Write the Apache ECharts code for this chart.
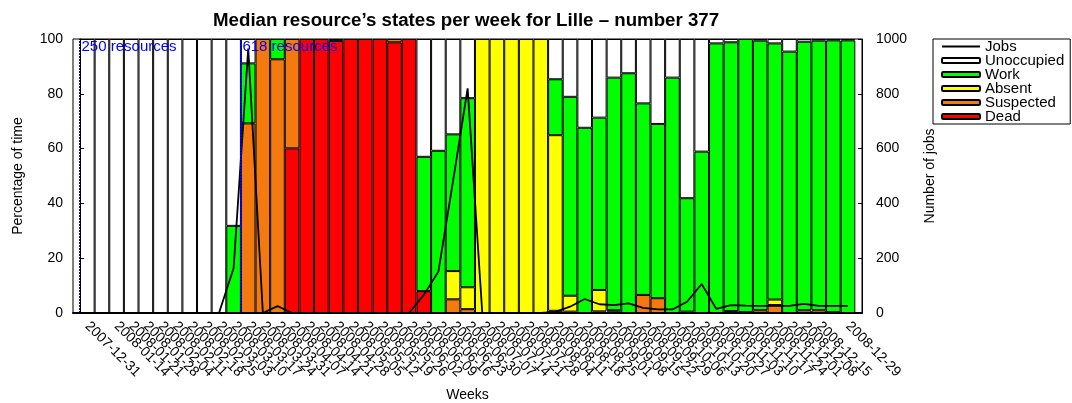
<!DOCTYPE html>
<html>
<head>
<meta charset="utf-8">
<script src="https://cdn.jsdelivr.net/npm/echarts@6/dist/echarts.min.js"></script>
<style>html,body{margin:0;padding:0;background:#fff}#c{width:1072px;height:403px}</style>
</head>
<body>
<div id="c"></div>
<script>
const weeks = ['2007-12-31','2008-01-07','2008-01-14','2008-01-21','2008-01-28','2008-02-04','2008-02-11','2008-02-18','2008-02-25','2008-03-03','2008-03-10','2008-03-17','2008-03-24','2008-03-31','2008-04-07','2008-04-14','2008-04-21','2008-04-28','2008-05-05','2008-05-12','2008-05-19','2008-05-26','2008-06-02','2008-06-09','2008-06-16','2008-06-23','2008-06-30','2008-07-07','2008-07-14','2008-07-21','2008-07-28','2008-08-04','2008-08-11','2008-08-18','2008-08-25','2008-09-01','2008-09-08','2008-09-15','2008-09-22','2008-09-29','2008-10-06','2008-10-13','2008-10-20','2008-10-27','2008-11-03','2008-11-10','2008-11-17','2008-11-24','2008-12-01','2008-12-08','2008-12-15','2008-12-22','2008-12-29'];

const dead       = [0,0,0,0,0,0,0,0,0,0,0,0,0,0,60.1,100,100,99.3,100,100,100,98.8,100,8,0,0,0,0,0,0,0,0,0,0,0,0,0,0,0,0,0,0,0,0,0,0,0,0,0,0,0,0,0];
const suspected  = [0,0,0,0,0,0,0,0,0,0,0,69.2,100,92.6,39.9,0,0,0.7,0,0,0,1.2,0,0,0,5,1.4,0,0,0,0,0,0.8,0.5,0,0.6,0.5,0,6.6,5.4,0,0.5,0,0,0.7,0.3,1,2.9,0,1,1,0.3,0];
const absent     = [0,0,0,0,0,0,0,0,0,0,0,0,0,0,0,0,0,0,0,0,0,0,0,0,0,10.3,8,100,100,100,100,100,64.1,5.8,0,7.8,0.5,0,0,0,0,0,0,0,0,0,0,2,0,0,0,0,0];
const work       = [0,0,0,0,0,0,0,0,0,0,31.8,21.9,0,7.4,0,0,0,0,0,0,0,0,0,49,59.2,49.9,69,0,0,0,0,0,20.4,72.6,67.6,62.9,84.9,87.5,69.9,63.6,85.9,41.4,58.9,98.4,98.1,99.7,98.4,93.5,95.4,98,98.4,99.2,99.5];
const unoccupied = [100,100,100,100,100,100,100,100,100,100,68.2,8.9,0,0,0,0,0,0,0,0,0,0,0,43,40.8,34.8,21.6,0,0,0,0,0,14.7,21.1,32.4,28.7,14.1,12.5,23.5,31,14.1,58.1,41.1,1.6,1.2,0,0.6,1.6,4.6,1,0.6,0.5,0.5];
const jobs       = [null,null,null,null,null,null,null,null,null,0,163,965,0,25,0,0,0,0,0,0,0,0,0,66,151,480,820,0,0,0,0,0,4,23,51,32,29,35,19,13,13,41,106,15,29,27,26,26,26,33,26,26,26];

const yTicks = [0,20,40,60,80,100];
const y2Ticks = [0,200,400,600,800,1000];
const resourceMarks = [{week:'2007-12-31', text:'250 resources'}, {week:'2008-03-17', text:'618 resources'}];

const font = 'Liberation Sans, Arial, Helvetica, sans-serif';

function barSeries(name, arr, color) {
  return {
    name, type: 'bar', stack: 'states', xAxisIndex: 1, yAxisIndex: 2,
    data: arr.map(v => (v === 0 ? '-' : v)), barWidth: '100%', barCategoryGap: 0,
    itemStyle: { color, borderColor: '#000', borderWidth: 1 },
    emphasis: { disabled: true }, animation: false, z: 2
  };
}

const chart = echarts.init(document.getElementById('c'), null, { renderer: 'canvas' });
chart.setOption({
  animation: false,
  backgroundColor: '#fff',
  textStyle: { fontFamily: font },
  title: {
    text: 'Median resource\u2019s states per week for Lille \u2013 number 377',
    left: 208, top: 6,
    textStyle: { fontSize: 18.7, fontWeight: 'bold', color: '#000', fontFamily: font }
  },
  legend: {
    orient: 'vertical', left: 933, top: 39,
    itemWidth: 38, itemHeight: 5, itemGap: -1,
    borderColor: '#000', borderWidth: 1, padding: [0, 6, 0, 8],
    textStyle: { fontSize: 15, color: '#000', lineHeight: 14, fontFamily: font },
    data: [
      { name: 'Jobs', icon: 'path://M0,0 L40,0 L40,2 L0,2 Z', itemStyle: { color: '#000', borderWidth: 0 } },
      'Unoccupied', 'Work', 'Absent', 'Suspected', 'Dead'
    ]
  },
  grid: [
    { left: 73, right: 210, top: 39, bottom: 90, show: true, z: 10, backgroundColor: 'transparent', borderColor: '#000', borderWidth: 1, outerBoundsMode: 'none' },
    { left: 80, right: 216.7, top: 39, bottom: 90, show: false, outerBoundsMode: 'none' }
  ],
  xAxis: [
    {
      type: 'value', gridIndex: 0, min: -0.48, max: 53.46, z: 10,
      name: 'Weeks', nameLocation: 'middle', nameGap: 75,
      nameTextStyle: { fontSize: 14, color: '#000', fontFamily: font },
      axisLine: { show: true, lineStyle: { color: '#000', width: 2 } },
      axisTick: { show: false },
      splitLine: { show: false },
      axisLabel: {
        customValues: weeks.map((w, i) => i + 0.5),
        formatter: v => weeks[Math.floor(v)],
        showMinLabel: true, showMaxLabel: true,
        rotate: -45, fontSize: 14, color: '#000', margin: 11, fontFamily: font
      }
    },
    {
      type: 'category', gridIndex: 1, data: weeks, boundaryGap: true, show: false
    }
  ],
  yAxis: [
    {
      type: 'value', gridIndex: 0, min: 0, max: 100, interval: 20, z: 10,
      name: 'Percentage of time', nameLocation: 'middle', nameGap: 48, nameRotate: 90,
      nameTextStyle: { fontSize: 14, color: '#000', fontFamily: font },
      axisLine: { show: true, lineStyle: { color: '#000' } },
      axisTick: { show: true, inside: true, length: 4, lineStyle: { color: '#000' } },
      splitLine: { show: false },
      axisLabel: { fontSize: 14, color: '#000', margin: 10, fontFamily: font, customValues: yTicks }
    },
    {
      type: 'value', gridIndex: 0, min: 0, max: 1000, interval: 200, position: 'right', z: 10,
      name: 'Number of jobs', nameLocation: 'middle', nameGap: 61, nameRotate: 90,
      nameTextStyle: { fontSize: 14, color: '#000', fontFamily: font },
      axisLine: { show: true, lineStyle: { color: '#000' } },
      axisTick: { show: true, inside: true, length: 4, lineStyle: { color: '#000' } },
      splitLine: { show: false },
      axisLabel: { fontSize: 14, color: '#000', margin: 14, fontFamily: font, customValues: y2Ticks, formatter: v => String(v) }
    },
    {
      type: 'value', gridIndex: 1, min: 0, max: 100, show: false
    }
  ],
  series: [
    barSeries('Dead', dead, '#ff0000'),
    barSeries('Suspected', suspected, '#f47a10'),
    barSeries('Absent', absent, '#ffff00'),
    barSeries('Work', work, '#00ff00'),
    barSeries('Unoccupied', unoccupied, '#ffffff'),
    {
      name: 'Jobs', type: 'line', xAxisIndex: 0, yAxisIndex: 1,
      data: jobs.map((v, i) => [i + 0.5, v === null ? '-' : v]),
      symbol: 'none', showSymbol: false, connectNulls: false, z: 6,
      lineStyle: { color: '#000', width: 1.8 }, itemStyle: { color: '#000' },
      emphasis: { disabled: true },
      markLine: {
        silent: true, symbol: ['none', 'none'], animation: false, z: 8,
        lineStyle: { color: '#0000ff', type: [2, 1], width: 2 },
        label: { show: false },
        data: resourceMarks.map(m => ({ xAxis: weeks.indexOf(m.week) }))
      },
      markPoint: {
        silent: true, symbol: 'rect', symbolSize: 1, animation: false, z: 8,
        itemStyle: { color: 'rgba(0,0,0,0)' },
        label: { show: true, position: 'right', distance: 1, offset: [0, 8], color: '#0000ff', fontSize: 15, fontFamily: font, formatter: p => p.name },
        data: resourceMarks.map(m => ({ name: m.text, coord: [weeks.indexOf(m.week), 1000] }))
      }
    }
  ]
});
</script>
</body>
</html>
